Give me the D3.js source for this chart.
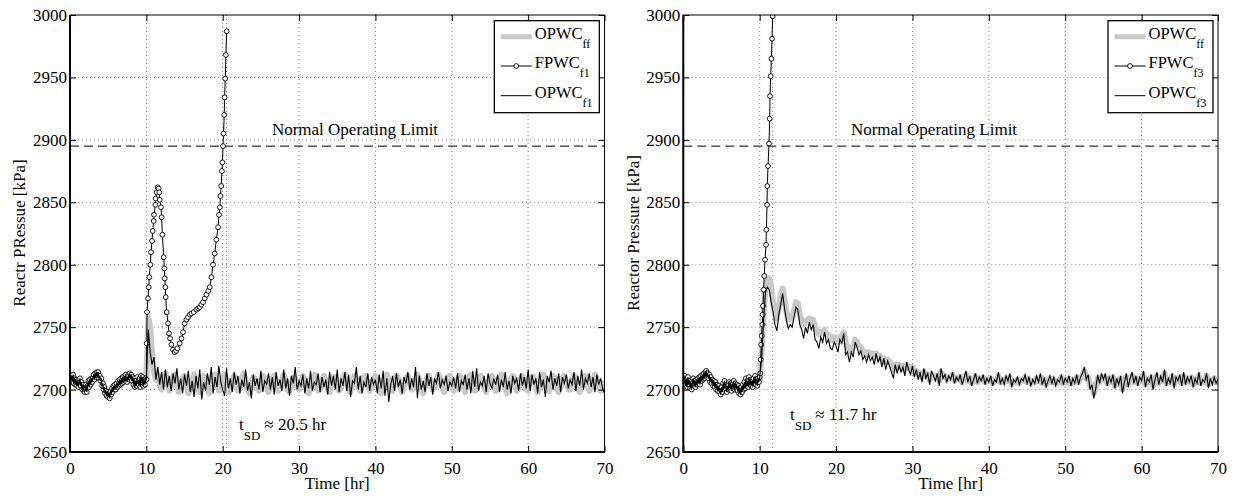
<!DOCTYPE html>
<html>
<head>
<meta charset="utf-8">
<script src="https://cdn.jsdelivr.net/npm/d3@7"></script>
<style>
body { margin: 0; background: #fff; }
svg text { font-family: "Liberation Serif", "Times New Roman", Times, serif; fill: #000; }
.axis path { display: none; }
.axis line { stroke: #000; }
.axis text { font-size: 17px; }
</style>
</head>
<body>
<svg id="chart" width="1238" height="499" font-family="Liberation Serif, Times New Roman, serif"></svg>
<script>
// tick labels / constants
const xTicks = [0, 10, 20, 30, 40, 50, 60, 70];
const yTicks = [2650, 2700, 2750, 2800, 2850, 2900, 2950, 3000];
const limit = 2895;

// sample times
const gridTimes = d3.range(0, 70.0001, 0.25);   // OPWC_ff run, 0..70 every 0.25 hr
const preTimes = d3.range(0, 10.0001, 0.1);     // before the fault, 0..10 every 0.1 hr
const postTimes = d3.range(10.25, 70.0001, 0.25); // after the fault, 10.25..70

// ---- left case (fault f1) ----
// t = 0..10, same for FPWC and OPWC (fault not active yet)
const leftPre = [
  2710,2706,2711,2707,2712,2705,2709,2704,2708,2703,
  2707,2702,2706,2709,2703,2706,2700,2704,2701,2698,
  2700,2704,2698,2703,2707,2702,2708,2704,2709,2706,
  2709,2712,2708,2713,2710,2714,2711,2714,2709,2711,
  2707,2709,2703,2705,2700,2702,2697,2699,2695,2698,
  2694,2697,2693,2698,2696,2701,2698,2703,2700,2704,
  2700,2705,2702,2707,2703,2708,2704,2709,2705,2710,
  2706,2711,2707,2712,2708,2706,2711,2708,2713,2709,
  2712,2707,2710,2704,2709,2702,2707,2703,2710,2705,
  2704,2709,2702,2711,2705,2710,2703,2708,2704,2709,
  2708];
const leftFFPre = [2709,2708,2709,2706,2706,2704,2705,2702,2701,2703,
  2706,2705,2708,2710,2712,2711,2708,2705,2702,2699,
  2697,2697,2699,2701,2701,2703,2705,2704,2707,2709,
  2707,2710,2710,2707,2705,2708,2705,2708,2704,2706,
  2707];
// t = 10.25..70
const leftFFPost = [
  2758,2750,2728,2714,2708,2712,2704,2700,2709,2713,2706,2699,2702,2710,2712,2705,2698,2701,2709,2711,
  2704,2697,2700,2707,2712,2708,2700,2698,2705,2711,2709,2701,2697,2703,2710,2712,2706,2699,2701,2708,
  2712,2705,2698,2700,2707,2711,2706,2699,2702,2709,2713,2707,2700,2697,2704,2710,2708,2701,2699,2706,
  2711,2709,2702,2698,2703,2709,2711,2705,2699,2701,2708,2712,2707,2700,2698,2704,2710,2709,2702,2700,
  2706,2711,2708,2701,2697,2702,2709,2712,2706,2699,2700,2707,2711,2708,2701,2698,2704,2710,2710,2703,
  2699,2702,2709,2712,2707,2700,2698,2705,2711,2709,2702,2699,2704,2710,2711,2705,2699,2701,2708,2711,
  2706,2700,2697,2703,2709,2712,2707,2700,2699,2706,2711,2709,2702,2698,2703,2709,2711,2706,2700,2701,
  2708,2712,2708,2701,2697,2702,2709,2711,2706,2700,2701,2707,2712,2709,2702,2698,2703,2710,2711,2705,
  2699,2700,2707,2711,2709,2702,2698,2704,2710,2712,2706,2699,2700,2707,2711,2708,2701,2698,2704,2709,
  2711,2706,2699,2701,2708,2712,2708,2701,2697,2703,2709,2711,2705,2699,2701,2708,2711,2707,2700,2699,
  2705,2710,2710,2703,2698,2701,2708,2712,2707,2700,2699,2706,2711,2709,2702,2698,2703,2709,2711,2706,
  2700,2700,2707,2711,2709,2702,2698,2704,2710,2711,2705,2699,2701,2708,2712,2708,2701,2699,2705,2704];
const leftF1Post = [
  2748,2730,2720,2726,2708,2718,2704,2714,2700,2716,2702,2711,2699,2713,2705,2717,2700,2709,2697,2712,
  2703,2715,2698,2707,2694,2711,2701,2716,2692,2706,2699,2713,2704,2718,2697,2710,2702,2719,2706,2700,
  2695,2717,2701,2709,2698,2714,2704,2711,2697,2708,2702,2716,2699,2706,2693,2712,2703,2709,2700,2715,
  2698,2707,2704,2713,2700,2710,2696,2714,2703,2708,2699,2716,2701,2709,2695,2711,2705,2718,2700,2707,
  2703,2712,2697,2709,2701,2715,2699,2706,2704,2713,2698,2710,2702,2708,2696,2714,2703,2711,2700,2716,
  2698,2709,2703,2714,2699,2712,2694,2707,2705,2718,2700,2711,2697,2706,2702,2713,2699,2710,2704,2708,
  2697,2712,2701,2715,2695,2709,2690,2704,2711,2699,2713,2702,2708,2697,2710,2705,2714,2700,2709,2702,
  2718,2693,2711,2700,2707,2698,2713,2703,2710,2696,2709,2705,2714,2701,2708,2704,2711,2699,2706,2703,
  2710,2701,2713,2698,2707,2704,2712,2700,2709,2697,2715,2702,2717,2699,2706,2703,2711,2698,2713,2705,
  2701,2709,2704,2712,2698,2708,2702,2714,2700,2707,2697,2711,2705,2709,2699,2713,2703,2710,2701,2716,
  2699,2712,2704,2709,2697,2714,2702,2708,2694,2711,2706,2715,2700,2709,2703,2713,2698,2710,2705,2712,
  2701,2708,2704,2714,2699,2711,2703,2716,2700,2709,2705,2713,2702,2710,2698,2712,2704,2709,2701,2697];
// FPWC after the fault (variable-step samples)
const fpwcF1Time = [10.05,10.09,10.22,10.31,10.39,10.52,10.61,10.74,10.83,10.96,11.0,11.18,11.22,11.35,11.48,
  11.6,11.7,11.75,11.92,12.0,12.1,12.27,12.36,12.4,12.49,12.53,12.66,12.84,12.97,13.1,13.28,13.49,13.71,
  13.9,14.06,14.37,14.59,14.8,15.02,15.25,15.46,15.7,15.9,16.2,16.55,16.8,16.99,17.2,17.42,17.65,17.86,
  18.1,18.3,18.52,18.73,18.95,19.17,19.39,19.52,19.63,19.7,19.8,19.9,19.96,20.04,20.1,20.2,20.25,20.33,
  20.42,20.52];
const fpwcF1Val = [2737,2762,2773,2782,2790,2800,2810,2819,2827,2835,2840,2848,2853,2858,2862,
  2861,2858,2852,2846,2838,2824,2806,2797,2789,2782,2774,2762,2753,2745,2741,2736,2732,2730,
  2731,2733,2737,2741,2746,2753,2756,2758,2760,2761,2762,2764,2765,2766,2768,2770,2773,2776,
  2779,2782,2790,2800,2809,2820,2830,2840,2846,2855,2863,2875,2882,2895,2905,2920,2934,2949,
  2968,2987];

// ---- right case (fault f3) ----
const rightPre = [
  2709,2705,2711,2703,2708,2702,2710,2704,2707,2701,
  2706,2700,2705,2709,2703,2707,2702,2708,2704,2709,
  2705,2710,2704,2711,2707,2712,2708,2713,2709,2714,
  2715,2710,2713,2709,2712,2706,2710,2705,2708,2703,
  2707,2702,2706,2700,2704,2699,2703,2698,2701,2696,
  2702,2698,2705,2700,2707,2701,2704,2698,2703,2700,
  2706,2701,2705,2699,2704,2702,2707,2700,2705,2701,
  2704,2699,2703,2697,2701,2696,2702,2698,2704,2700,
  2706,2701,2709,2703,2707,2702,2710,2704,2708,2703,
  2707,2702,2709,2705,2711,2704,2708,2703,2709,2706,
  2710];
const rightFFPre = [2708,2706,2708,2704,2705,2703,2705,2704,2707,2706,
  2709,2711,2713,2711,2710,2707,2707,2704,2703,2700,
  2702,2704,2702,2703,2701,2703,2704,2703,2704,2701,
  2700,2703,2706,2706,2708,2705,2706,2705,2707,2706,
  2708];
const rightFFPost = [
  2730,2760,2782,2788,2789,2782,2770,2760,2757,2765,2775,2781,2772,2762,2756,2757,2758,2764,2770,2769,
  2760,2755,2752,2755,2756,2757,2755,2756,2750,2746,2744,2746,2745,2748,2744,2744,2740,2740,2742,2740,
  2738,2742,2743,2746,2738,2734,2731,2733,2734,2740,2738,2734,2734,2730,2730,2728,2730,2728,2729,2726,
  2729,2727,2727,2724,2725,2722,2724,2722,2719,2716,2720,2718,2720,2718,2719,2716,2720,2718,2716,2718,
  2714,2715,2712,2713,2710,2714,2711,2712,2708,2712,2711,2709,2711,2707,2714,2710,2711,2708,2710,2709,
  2712,2707,2709,2708,2710,2706,2709,2712,2707,2709,2705,2708,2711,2706,2709,2708,2710,2706,2708,2707,
  2709,2705,2707,2707,2711,2706,2708,2706,2709,2707,2710,2704,2707,2706,2708,2705,2708,2707,2710,2706,
  2708,2705,2707,2706,2709,2707,2710,2705,2708,2704,2707,2709,2706,2708,2705,2707,2706,2710,2705,2708,
  2706,2709,2705,2708,2706,2710,2706,2709,2711,2715,2709,2710,2703,2704,2697,2702,2709,2706,2710,2708,
  2710,2705,2709,2706,2710,2703,2708,2705,2709,2700,2706,2710,2704,2708,2711,2706,2709,2705,2709,2707,
  2712,2704,2708,2706,2710,2703,2707,2711,2705,2709,2707,2713,2705,2708,2706,2711,2704,2709,2707,2710,
  2705,2711,2706,2709,2706,2710,2704,2708,2706,2711,2705,2708,2706,2711,2704,2708,2705,2709,2706,2707];
const rightF3Post = [
  2725,2755,2778,2782,2780,2770,2762,2752,2747,2760,2768,2777,2765,2755,2749,2752,2750,2758,2766,2764,
  2752,2748,2741,2750,2745,2754,2748,2752,2740,2738,2733,2742,2738,2746,2737,2740,2733,2732,2738,2735,
  2730,2740,2737,2745,2728,2730,2722,2730,2726,2738,2734,2728,2731,2724,2727,2722,2728,2723,2726,2720,
  2729,2722,2726,2718,2725,2716,2723,2719,2714,2709,2720,2713,2719,2714,2718,2711,2722,2716,2712,2719,
  2710,2716,2708,2714,2706,2717,2709,2713,2704,2715,2711,2707,2713,2703,2717,2709,2712,2706,2711,2708,
  2714,2705,2710,2707,2712,2704,2709,2715,2706,2711,2703,2708,2713,2705,2710,2707,2712,2704,2709,2706,
  2711,2703,2708,2706,2714,2705,2709,2704,2711,2707,2713,2702,2708,2706,2710,2704,2709,2707,2712,2705,
  2710,2703,2708,2705,2711,2706,2713,2704,2709,2702,2707,2711,2705,2710,2703,2708,2706,2712,2704,2709,
  2706,2711,2703,2709,2705,2712,2704,2710,2713,2718,2708,2712,2700,2704,2693,2701,2712,2705,2713,2708,
  2713,2703,2710,2706,2712,2701,2709,2704,2711,2697,2706,2713,2702,2709,2714,2705,2711,2703,2710,2707,
  2715,2702,2709,2706,2712,2700,2708,2714,2704,2711,2706,2716,2703,2709,2705,2713,2701,2710,2707,2712,
  2703,2714,2704,2710,2706,2711,2702,2709,2705,2714,2703,2708,2706,2713,2701,2709,2704,2710,2705,2708];
const fpwcF3Time = [10.08,10.13,10.2,10.26,10.35,10.39,10.44,10.52,10.6,10.7,10.83,10.88,10.96,11.0,11.09,
  11.22,11.31,11.35,11.44,11.53,11.62,11.7];
const fpwcF3Val = [2713,2724,2736,2743,2752,2760,2767,2780,2791,2804,2816,2828,2848,2863,2879,
  2897,2917,2935,2951,2965,2981,2999];

const svg = d3.select('#chart');
const top0 = 15, bottom0 = 452;
const grey = '#c8c8c8';

function drawPanel(p) {
  const x = d3.scaleLinear().domain([0, 70]).range([p.left, p.right]);
  const y = d3.scaleLinear().domain([2650, 3000]).range([bottom0, top0]);
  const g = svg.append('g');

  svg.append('clipPath').attr('id', 'clip' + p.id)
    .append('rect')
    .attr('x', p.left).attr('y', top0)
    .attr('width', p.right - p.left).attr('height', bottom0 - top0);

  // dotted grid, plus the shutdown time line
  g.append('g').selectAll('line')
    .data(xTicks.slice(1, -1).concat([p.tsd]))
    .join('line')
      .attr('x1', d => x(d)).attr('x2', d => x(d))
      .attr('y1', top0).attr('y2', bottom0)
      .attr('stroke', '#666').attr('stroke-width', 0.8).attr('stroke-dasharray', '1,3');
  g.append('g').selectAll('line')
    .data(yTicks.slice(1, -1))
    .join('line')
      .attr('x1', p.left).attr('x2', p.right)
      .attr('y1', d => y(d)).attr('y2', d => y(d))
      .attr('stroke', '#666').attr('stroke-width', 0.8).attr('stroke-dasharray', '1,3');

  g.append('line')
    .attr('x1', p.left).attr('x2', p.right)
    .attr('y1', y(limit)).attr('y2', y(limit))
    .attr('stroke', '#333').attr('stroke-width', 1.3).attr('stroke-dasharray', '9,5');
  g.append('text')
    .attr('x', p.limitX).attr('y', 135)
    .attr('text-anchor', 'middle').attr('font-size', 17)
    .text('Normal Operating Limit');

  const line = d3.line().x(d => x(d[0])).y(d => y(d[1]));
  const plot = g.append('g').attr('clip-path', `url(#clip${p.id})`);

  plot.append('path')
    .datum(d3.zip(gridTimes, p.ff))
    .attr('d', line)
    .attr('fill', 'none').attr('stroke', grey)
    .attr('stroke-width', 6).attr('stroke-linejoin', 'round');

  const fp = d3.zip(preTimes, p.pre).concat(d3.zip(p.fpT, p.fpV));
  plot.append('path')
    .datum(fp)
    .attr('d', line)
    .attr('fill', 'none').attr('stroke', '#000').attr('stroke-width', 1);
  plot.append('g').selectAll('circle')
    .data(fp)
    .join('circle')
      .attr('cx', d => x(d[0])).attr('cy', d => y(d[1]))
      .attr('r', 2.4)
      .attr('fill', '#fff').attr('stroke', '#000').attr('stroke-width', 0.9);

  plot.append('path')
    .datum(d3.zip(preTimes.concat(postTimes), p.pre.concat(p.opwc)))
    .attr('d', line)
    .attr('fill', 'none').attr('stroke', '#000').attr('stroke-width', 1.1);

  // axes, ticks pointing inward on all four sides
  g.append('g').attr('class', 'axis')
    .attr('transform', `translate(0,${bottom0})`)
    .call(d3.axisBottom(x).tickValues(xTicks).tickSize(-6).tickPadding(10).tickFormat(d3.format('d')));
  g.append('g').attr('class', 'axis')
    .attr('transform', `translate(${p.left},0)`)
    .call(d3.axisLeft(y).tickValues(yTicks).tickSize(-6).tickPadding(3).tickFormat(d3.format('d')));
  g.append('g').attr('class', 'axis')
    .attr('transform', `translate(0,${top0})`)
    .call(d3.axisTop(x).tickValues(xTicks).tickSize(-6).tickFormat(''));
  g.append('g').attr('class', 'axis')
    .attr('transform', `translate(${p.right},0)`)
    .call(d3.axisRight(y).tickValues(yTicks).tickSize(-6).tickFormat(''));

  g.append('rect')
    .attr('x', p.left).attr('y', top0)
    .attr('width', p.right - p.left).attr('height', bottom0 - top0)
    .attr('fill', 'none').attr('stroke', '#000').attr('stroke-width', 1);
  g.append('path')
    .attr('d', `M${p.left},${top0}V${bottom0}H${p.right}`)
    .attr('fill', 'none').attr('stroke', '#000').attr('stroke-width', 2);

  // axis titles
  g.append('text')
    .attr('x', (p.left + p.right) / 2).attr('y', 489)
    .attr('text-anchor', 'middle').attr('font-size', 17)
    .text('Time [hr]');
  g.append('text')
    .attr('transform', `translate(${p.yLabelX},233) rotate(-90)`)
    .attr('text-anchor', 'middle').attr('font-size', 17)
    .text(p.yLabel);

  // shutdown time annotation
  const ann = g.append('text').attr('x', p.annX).attr('y', p.annY).attr('font-size', 17);
  ann.append('tspan').text('t');
  ann.append('tspan').attr('dy', 10).attr('font-size', 13).text('SD');
  ann.append('tspan').attr('dy', -10).attr('dx', 4).text('\u2248 ' + p.tsd + ' hr');

  // legend
  const lg = g.append('g').attr('transform', `translate(${p.legendX},20.7)`);
  lg.append('rect')
    .attr('width', 105).attr('height', 92)
    .attr('fill', '#fff').attr('stroke', '#000').attr('stroke-width', 1.3);
  const rows = [
    { y: 16, kind: 'ff', label: 'OPWC', sub: 'ff' },
    { y: 45.3, kind: 'fp', label: 'FPWC', sub: p.sub },
    { y: 75, kind: 'op', label: 'OPWC', sub: p.sub }
  ];
  rows.forEach(r => {
    lg.append('line')
      .attr('x1', 6.5).attr('x2', 37.5).attr('y1', r.y).attr('y2', r.y)
      .attr('stroke', r.kind === 'ff' ? grey : '#000')
      .attr('stroke-width', r.kind === 'ff' ? 5 : 1);
    if (r.kind === 'fp') {
      lg.append('circle').attr('cx', 22).attr('cy', r.y).attr('r', 2.4)
        .attr('fill', '#fff').attr('stroke', '#000').attr('stroke-width', 0.9);
    }
    const t = lg.append('text').attr('x', 40.5).attr('y', r.y + 2).attr('font-size', 16.5);
    t.append('tspan').text(r.label);
    t.append('tspan').attr('dy', 9).attr('font-size', 12).text(r.sub);
  });
}

drawPanel({
  id: 'L', left: 70, right: 604.5, tsd: 20.5, limitX: 355,
  ff: leftFFPre.concat(leftFFPost),
  pre: leftPre, opwc: leftF1Post, fpT: fpwcF1Time, fpV: fpwcF1Val,
  sub: 'f1', legendX: 494.3, yLabelX: 25, yLabel: 'Reactr PRessue [kPa]',
  annX: 239, annY: 430
});
drawPanel({
  id: 'R', left: 683.3, right: 1218, tsd: 11.7, limitX: 934,
  ff: rightFFPre.concat(rightFFPost),
  pre: rightPre, opwc: rightF3Post, fpT: fpwcF3Time, fpV: fpwcF3Val,
  sub: 'f3', legendX: 1108, yLabelX: 639, yLabel: 'Reactor Pressure [kPa]',
  annX: 790, annY: 420
});
</script>
</body>
</html>
